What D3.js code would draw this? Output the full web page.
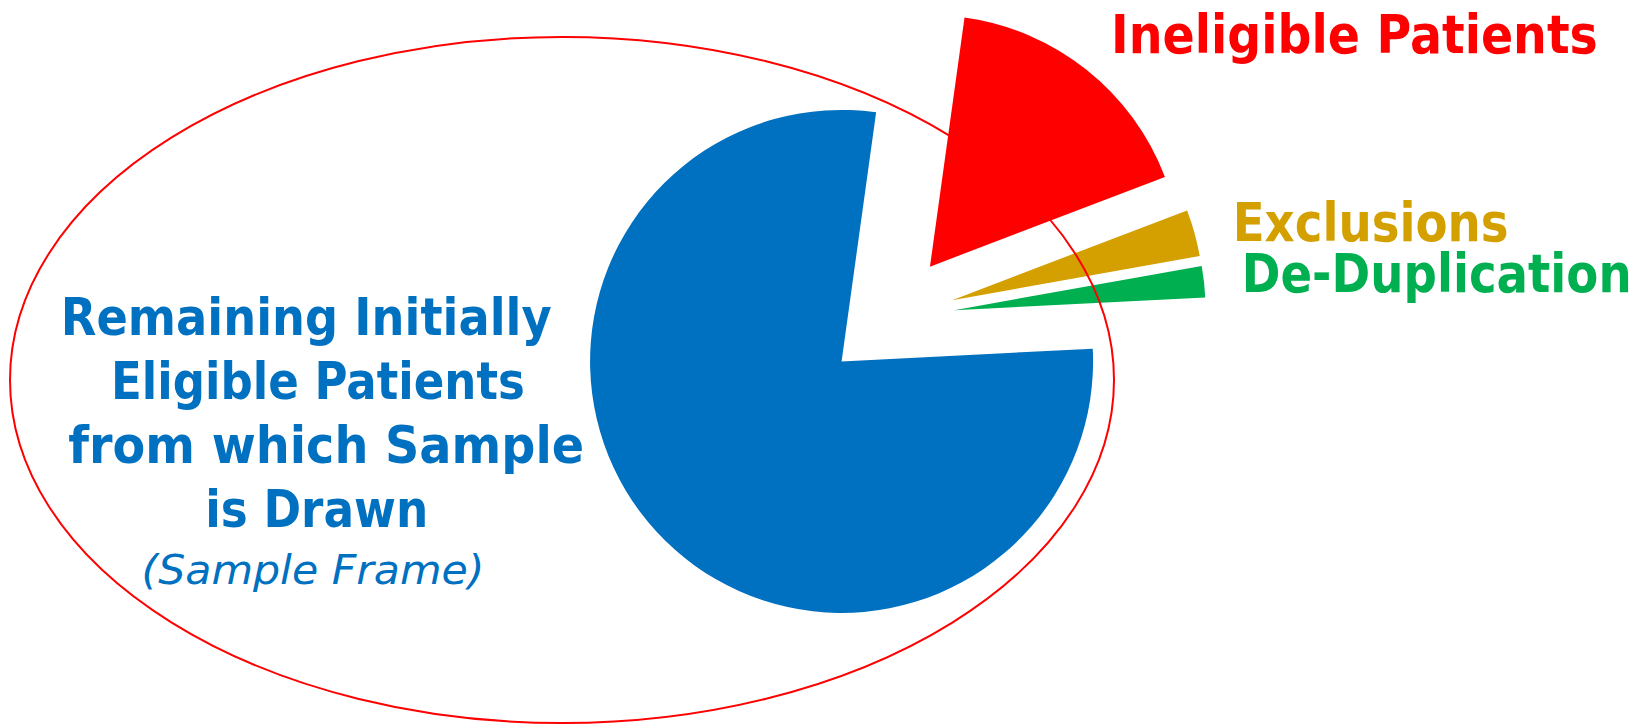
<!DOCTYPE html>
<html>
<head>
<meta charset="utf-8">
<script src="https://cdn.jsdelivr.net/npm/d3@7"></script>
<style>
  html, body { margin: 0; padding: 0; background: #ffffff; }
  svg { display: block; }
</style>
</head>
<body>
<svg id="chart" width="1643" height="725"></svg>
<script>
// ---- data ----
const categories = ["Remaining Initially Eligible Patients", "Ineligible Patients", "Exclusions", "De-Duplication"];
const shares = [78, 17, 3, 2];
const colors = ["#0070C0", "#FF0000", "#D3A000", "#00B050"];
const mainLabelLines = ["Remaining Initially", "Eligible Patients", "from which Sample", "is Drawn"];
const mainLabelNote = "(Sample Frame)";
const sideLabels = ["Ineligible Patients", "Exclusions", "De-Duplication"];

// ---- layout ----
const svg = d3.select("#chart");
const cx = 889.5, cy = 317.5, R = 251.5, explode = 65;
const startDeg = 87.1;

// pie
const pie = d3.pie().sort(null).value(d => d)
  .startAngle(startDeg * Math.PI / 180)
  .endAngle(startDeg * Math.PI / 180 + 2 * Math.PI);
const arc = d3.arc().innerRadius(0).outerRadius(R);
const arcs = pie(shares);

const g = svg.append("g").attr("transform", `translate(${cx},${cy})`);
g.selectAll("path.slice")
  .data(arcs)
  .enter().append("path")
  .attr("class", "slice")
  .attr("d", arc)
  .attr("fill", (d, i) => colors[i])
  .attr("transform", d => {
    const m = (d.startAngle + d.endAngle) / 2;
    return `translate(${explode * Math.sin(m)},${-explode * Math.cos(m)})`;
  });

// red ellipse outline (drawn over the pie)
svg.append("ellipse")
  .attr("cx", 562).attr("cy", 380)
  .attr("rx", 552).attr("ry", 343)
  .attr("fill", "none")
  .attr("stroke", "#FF0000")
  .attr("stroke-width", 2);

// ---- labels ----
const font = "'DejaVu Sans', Verdana, sans-serif";

// place a text so that it spans targetWidth, horizontally scaled
function fitText(sel, x, y, targetWidth, anchor) {
  const node = sel.node();
  const w = node.getComputedTextLength();
  const sx = targetWidth / w;
  sel.attr("x", 0).attr("y", 0).attr("text-anchor", anchor)
     .attr("transform", `translate(${x},${y}) scale(${sx},1)`);
}

// main (blue) label lines: [centerX, baseline, width]
const mainPos = [[306.2, 335, 491], [317.9, 399.3, 414], [326.2, 463.3, 516], [316.7, 527.3, 223]];
mainLabelLines.forEach((t, i) => {
  const s = svg.append("text")
    .attr("class", "main")
    .attr("font-family", font)
    .attr("font-weight", "bold")
    .attr("font-size", 52)
    .attr("fill", colors[0])
    .text(t);
  fitText(s, mainPos[i][0], mainPos[i][1], mainPos[i][2], "middle");
});

const note = svg.append("text")
  .attr("font-family", font)
  .attr("font-style", "italic")
  .attr("font-size", 40)
  .attr("fill", colors[0])
  .text(mainLabelNote);
fitText(note, 313, 584, 343, "middle");

// side labels: [leftX, baseline, width, size]
const sidePos = [[1111, 53.3, 487, 54], [1232.7, 241, 276, 53], [1241.7, 291.7, 390, 53]];
sideLabels.forEach((t, i) => {
  const s = svg.append("text")
    .attr("class", "side")
    .attr("font-family", font)
    .attr("font-weight", "bold")
    .attr("font-size", sidePos[i][3])
    .attr("fill", colors[i + 1])
    .text(t);
  fitText(s, sidePos[i][0], sidePos[i][1], sidePos[i][2], "start");
});
</script>
</body>
</html>
